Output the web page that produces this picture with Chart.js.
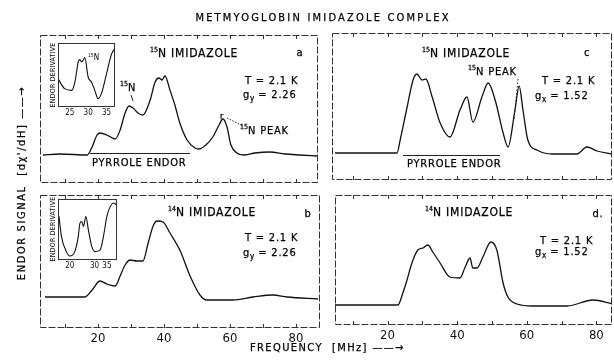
<!DOCTYPE html>
<html>
<head>
<meta charset="utf-8">
<script src="https://cdn.jsdelivr.net/npm/chart.js@4.4.1/dist/chart.umd.min.js"></script>
<style>
  body { margin: 0; background: #fff; width: 614px; height: 363px; position: relative; overflow: hidden;
         font-family: "DejaVu Sans Condensed", "DejaVu Sans", sans-serif; color: #000; }
  canvas, svg { position: absolute; }
  .t { position: absolute; white-space: nowrap; font-size: 11px; line-height: 1; letter-spacing: 0.8px;
       transform: translateY(-50%); -webkit-text-stroke: 0.25px #000; }
  .c { transform: translate(-50%, -50%); }
  .s { font-size: 7px; vertical-align: 5px; letter-spacing: 0; }
  .b { font-size: 8px; vertical-align: -3px; letter-spacing: 0; }
  .rot { transform: translate(-50%, -50%) rotate(-90deg); }
  .ov { position: absolute; border-top: 1px solid #222; height: 0; }
</style>
</head>
<body>
<canvas id="pa" width="278" height="148" style="left:40px;top:35px"></canvas>
<canvas id="pc" width="280" height="147" style="left:332px;top:33px"></canvas>
<canvas id="pb" width="280" height="155" style="left:40px;top:195px"></canvas>
<canvas id="pd" width="277" height="152" style="left:335px;top:195px"></canvas>
<canvas id="ia" width="57" height="74" style="left:58px;top:43px;background:#fff"></canvas>
<canvas id="ib" width="59" height="71" style="left:58px;top:199px;background:#fff"></canvas>

<svg width="614" height="363" style="left:0;top:0" fill="none" stroke="#222" stroke-width="1">
  <path d="M131 95 L133 101"/>
  <path d="M227 118 L243 126" stroke-dasharray="1.5 1.5"/>
  <path d="M518 79 L514 121" stroke-dasharray="1.5 2"/>
</svg>

<div class="t c" style="left:323px;top:17px;letter-spacing:2.2px">METMYOGLOBIN IMIDAZOLE COMPLEX</div>
<div class="t rot" style="left:21px;top:183px;letter-spacing:1.6px">ENDOR SIGNAL &nbsp;[dχ'/dH] ——→</div>
<div class="t" style="left:250px;top:347px;letter-spacing:1.4px">FREQUENCY &nbsp;[MHz] ——→</div>

<!-- panel a -->
<div class="t" style="left:150px;top:53px;font-size:12px"><span class="s">15</span>N IMIDAZOLE</div>
<div class="t c" style="left:300px;top:52px">a</div>
<div class="t" style="left:245px;top:80px">T = 2.1 K</div>
<div class="t" style="left:243px;top:96px">g<span class="b">y</span> = 2.26</div>
<div class="t" style="left:120px;top:87px"><span class="s">15</span>N</div>
<div class="t" style="left:240px;top:130px"><span class="s">15</span>N PEAK</div>
<div class="t" style="left:220px;top:116px;font-size:9px">r</div>
<div class="t" style="left:92px;top:162px">PYRROLE ENDOR</div>
<div class="ov" style="left:90px;top:153px;width:100px"></div>
<div class="t rot" style="left:53px;top:75px;font-size:7px;letter-spacing:0.2px;-webkit-text-stroke:0">ENDOR DERIVATIVE</div>
<div class="t" style="left:88px;top:57px;font-size:8px;-webkit-text-stroke:0"><span class="s" style="font-size:5px;vertical-align:3px">15</span>N</div>

<!-- panel c -->
<div class="t" style="left:422px;top:53px;font-size:12px"><span class="s">15</span>N IMIDAZOLE</div>
<div class="t c" style="left:587px;top:52px">c</div>
<div class="t" style="left:468px;top:71px"><span class="s">15</span>N PEAK</div>
<div class="t" style="left:542px;top:80px">T = 2.1 K</div>
<div class="t" style="left:535px;top:97px">g<span class="b">x</span> = 1.52</div>
<div class="t" style="left:407px;top:163px">PYRROLE ENDOR</div>
<div class="ov" style="left:403px;top:155px;width:97px"></div>

<!-- panel b -->
<div class="t" style="left:168px;top:212px;font-size:12px"><span class="s">14</span>N IMIDAZOLE</div>
<div class="t c" style="left:308px;top:213px">b</div>
<div class="t" style="left:245px;top:237px">T = 2.1 K</div>
<div class="t" style="left:243px;top:254px">g<span class="b">y</span> = 2.26</div>
<div class="t rot" style="left:53px;top:229px;font-size:7px;letter-spacing:0.2px;-webkit-text-stroke:0">ENDOR DERIVATIVE</div>

<!-- panel d -->
<div class="t" style="left:425px;top:212px;font-size:12px"><span class="s">14</span>N IMIDAZOLE</div>
<div class="t c" style="left:598px;top:213px">d.</div>
<div class="t" style="left:540px;top:240px">T = 2.1 K</div>
<div class="t" style="left:535px;top:253px">g<span class="b">x</span> = 1.52</div>

<script>
// frequency (MHz) and ENDOR signal (arbitrary units, 0 = baseline)
const freqA   = [3.3, 8.5, 16.7, 18.2, 19.7, 20.6, 22.7, 25.2, 26.7, 28.2, 29.4, 30.6, 32.1, 33.6, 35.8, 37.3, 38.5, 39.4, 40.3, 41.8, 43.3, 44.8, 47.0, 49.4, 50.6, 52.7, 54.8, 56.7, 57.9, 59.1, 60.3, 62.1, 64.5, 67.6, 72.1, 76.7, 81.2, 86.4];
const signalA = [0, 1, 0, 8, 20, 22, 20, 16, 25, 42, 49, 47, 42, 40, 55, 73, 77, 75, 79, 65, 50, 32, 15, 7, 6, 10, 18, 30, 36, 28, 10, 2, 0, 2, 3, 1, 0, -1];

const freqB   = [3.9, 16.0, 18.2, 20.6, 22.7, 25.2, 26.7, 28.2, 29.7, 31.8, 33.6, 35.2, 36.7, 37.9, 39.7, 41.8, 44.8, 47.9, 50.9, 53.0, 60.9, 67.0, 73.0, 77.3, 86.7];
const signalB = [0, 0, 7, 16, 13, 11, 21, 32, 37, 36, 36, 54, 71, 76, 75, 64, 47, 21, 2, -3, -3, 0, 2, 0, -2];

const freqC   = [4.9, 22.7, 23.6, 25.6, 27.3, 28.4, 29.9, 31.0, 32.8, 35.1, 37.9, 40.8, 42.8, 44.5, 47.1, 48.9, 50.9, 53.2, 54.6, 56.6, 57.8, 58.9, 60.3, 62.9, 67.5, 74.4, 77.3, 80.2, 84.5];
const signalC = [0, 0, 13, 46, 73, 79, 73, 74, 56, 30, 16, 43, 56, 31, 56, 70, 53, 20, 6, 43, 67, 43, 13, 3, -1, -1, 6, 2, -1];

const freqD   = [4.9, 23.0, 24.4, 25.6, 27.0, 28.7, 30.2, 31.6, 33.0, 35.1, 37.9, 40.8, 42.2, 43.7, 44.5, 45.7, 47.4, 49.7, 51.4, 53.2, 54.6, 57.2, 61.8, 71.6, 79.0, 84.8];
const signalD = [0, 0, 12, 25, 42, 55, 57, 60, 53, 42, 28, 27, 37, 47, 37, 37, 48, 63, 55, 22, 8, 1, -1, -1, 5, 1];

// insets: ENDOR derivative, low-frequency region
const insetFreqA   = [21.8, 23.6, 25.5, 26.4, 27.3, 27.7, 28.2, 28.6, 29.1, 30.0, 30.9, 31.8, 32.7, 33.6, 35.0, 36.4, 37.3];
const insetSignalA = [85, 55, 50, 75, 135, 142, 135, 140, 148, 90, 75, 50, 25, 40, 100, 160, 175];
const insetTicksA  = [25, 30, 35];

const insetFreqB   = [15.6, 16.6, 18.6, 20.0, 22.0, 23.4, 24.1, 24.8, 25.5, 26.5, 27.5, 28.9, 30.2, 32.3, 33.6, 35.0, 36.4, 37.7, 38.8];
const insetSignalB = [130, 70, 25, 12, 25, 70, 110, 115, 100, 130, 90, 40, 25, 30, 70, 130, 160, 170, 165];
const insetTicksB  = [20, 30, 35];

const freqTicks = [20, 40, 60, 80];
const minorTicks = [10, 20, 30, 40, 50, 60, 70, 80];

const frame = {
  id: 'frame',
  afterDatasetsDraw(chart, args, opts) {
    const { ctx, chartArea: a, scales: { x } } = chart;
    ctx.save();
    ctx.strokeStyle = opts.color || '#333';
    ctx.lineWidth = 1;
    ctx.setLineDash(opts.dash || []);
    ctx.strokeRect(a.left + 0.5, a.top + 0.5, a.width - 1, a.height - 1);
    ctx.setLineDash([]);
    (opts.ticks || []).forEach(v => {
      const p = Math.round(x.getPixelForValue(v)) + 0.5;
      ctx.beginPath();
      ctx.moveTo(p, a.top); ctx.lineTo(p, a.top + 4);
      ctx.moveTo(p, a.bottom); ctx.lineTo(p, a.bottom - 4);
      ctx.stroke();
    });
    ctx.restore();
  }
};

function makeChart(id, xs, ys, o) {
  const data = xs.map((f, i) => ({ x: f, y: ys[i] }));
  return new Chart(document.getElementById(id), {
    type: 'line',
    data: { datasets: [{ data, borderColor: '#111', borderWidth: o.lw || 1.3, pointRadius: 0,
                         cubicInterpolationMode: 'monotone', fill: false }] },
    options: {
      responsive: false,
      animation: false,
      layout: { padding: 0 },
      plugins: { legend: { display: false }, tooltip: { enabled: false },
                 frame: { ticks: o.inner || [], dash: o.dash } },
      scales: {
        x: {
          type: 'linear', min: o.xmin, max: o.xmax, display: !!o.ticks,
          grid: { display: false, drawTicks: false, tickLength: 0 }, border: { display: false },
          afterFit: s => { s.height = o.tickH || 0; },
          afterBuildTicks: s => { if (o.ticks) s.ticks = o.ticks.map(v => ({ value: v })); },
          ticks: { color: '#111', padding: o.pad || 3, maxRotation: 0, autoSkip: false,
                   font: { family: '"DejaVu Sans Condensed", "DejaVu Sans", sans-serif', size: o.fs || 13 } }
        },
        y: { min: o.ymin, max: o.ymax, display: false }
      }
    },
    plugins: [frame]
  });
}

makeChart('pa', freqA, signalA, { xmin: 2.4, xmax: 86.7, ymin: -28, ymax: 120, inner: minorTicks, dash: [7, 2] });
makeChart('pb', freqB, signalB, { xmin: 2.4, xmax: 87.3, ymin: -31, ymax: 102, inner: minorTicks, dash: [7, 2],
                                   ticks: freqTicks, tickH: 22 });
makeChart('pc', freqC, signalC, { xmin: 4.0, xmax: 84.5, ymin: -27, ymax: 120, inner: minorTicks, dash: [7, 2] });
makeChart('pd', freqD, signalD, { xmin: 4.9, xmax: 84.5, ymin: -20, ymax: 110, inner: minorTicks, dash: [7, 2],
                                   ticks: freqTicks, tickH: 22 });
makeChart('ia', insetFreqA, insetSignalA, { xmin: 21.8, xmax: 37.3, ymin: 0, ymax: 192, lw: 1.1,
                                            ticks: insetTicksA, tickH: 10, fs: 8, pad: 1 });
makeChart('ib', insetFreqB, insetSignalB, { xmin: 15.2, xmax: 39.1, ymin: 0, ymax: 182, lw: 1.1,
                                            ticks: insetTicksB, tickH: 10, fs: 8, pad: 1 });
</script>
</body>
</html>
